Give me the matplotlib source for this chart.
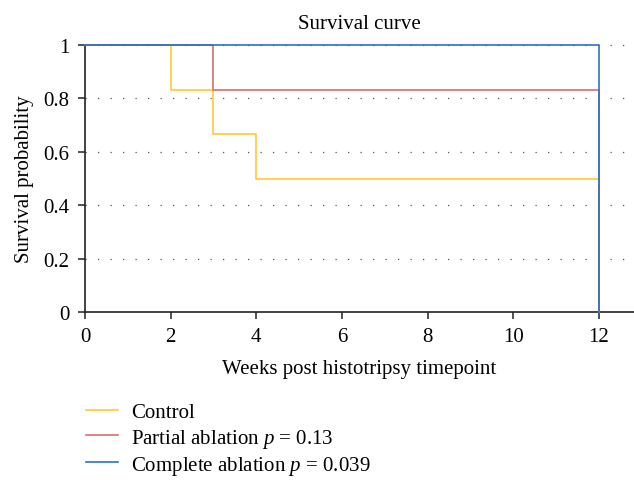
import matplotlib
matplotlib.use("Agg")
import matplotlib.pyplot as plt

plt.rcParams["font.family"] = ["Liberation Serif", "DejaVu Serif"]
plt.rcParams["mathtext.fontset"] = "custom"
plt.rcParams["mathtext.it"] = "Liberation Serif:italic"
plt.rcParams["mathtext.rm"] = "Liberation Serif"

# Kaplan-Meier stufen (Zeitpunkte, Überlebenswahrscheinlichkeit)
control_t = [0, 2, 2, 3, 3, 4, 4, 12, 12]
control_s = [1, 1, 0.833, 0.833, 0.667, 0.667, 0.5, 0.5, 0]
partial_t = [0, 3, 3, 12, 12]
partial_s = [1, 1, 0.833, 0.833, 0]
complete_t = [0, 12, 12]
complete_s = [1, 1, 0]

labels = ["Control", "Partial ablation $p$ = 0.13", "Complete ablation $p$ = 0.039"]
colors = ["#FFC832", "#D47070", "#2F6FC4"]
xticks = [0, 2, 4, 6, 8, 10, 12]
yticks = [0, 0.2, 0.4, 0.6, 0.8, 1]
ytick_labels = ["0", "0.2", "0.4", "0.6", "0.8", "1"]

fig = plt.figure(figsize=(6.34, 4.81), dpi=100)
ax = fig.add_axes([85 / 634, 1 - 313 / 481, 549 / 634, 267 / 481])

for yv in yticks[1:]:
    ax.axhline(yv, color="#555555", linewidth=0.9, linestyle=(0, (1, 9)), zorder=1, clip_on=False)

lines = []
for t, s, c, lab in zip([control_t, partial_t, complete_t],
                        [control_s, partial_s, complete_s], colors, labels):
    ln, = ax.plot(t, s, color=c, linewidth=1.2, label=lab, zorder=3, clip_on=False)
    lines.append(ln)

ax.set_xlim(0, 549 / 42.83)
ax.set_ylim(0, 1)
ax.set_xticks(xticks)
ax.set_yticks(yticks)
ax.set_yticklabels(ytick_labels)
ax.spines["top"].set_visible(False)
ax.spines["right"].set_visible(False)
for sp in ["left", "bottom"]:
    ax.spines[sp].set_linewidth(1.2)
    ax.spines[sp].set_color("#222222")
ax.tick_params(direction="out", length=5, width=1.1, labelsize=15, colors="#222222", pad=6)
for lbl in ax.get_xticklabels() + ax.get_yticklabels():
    lbl.set_color("black")

ax.set_title("Survival curve", fontsize=15, pad=12)
ax.set_xlabel("Weeks post histotripsy timepoint", fontsize=15, labelpad=9)
ax.set_ylabel("Survival probability", fontsize=15, labelpad=7)

fig.legend(handles=lines, loc="upper left", bbox_to_anchor=(0.119, 0.182),
           frameon=False, fontsize=15, handlelength=1.55, handletextpad=0.6,
           labelspacing=0.2, borderpad=0)

fig.savefig("out.png", dpi=100)
